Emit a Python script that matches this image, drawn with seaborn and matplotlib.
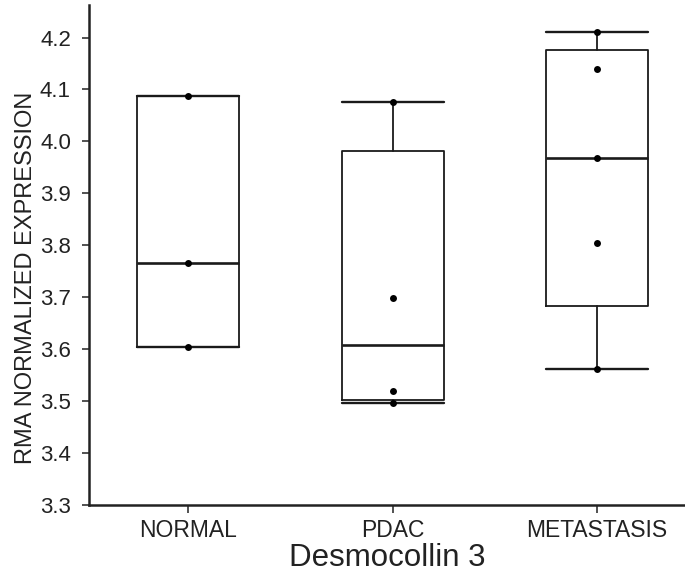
import matplotlib

matplotlib.use("Agg")
import matplotlib.pyplot as plt
import numpy as np
import pandas as pd
import seaborn as sns

groups = ["NORMAL", "PDAC", "METASTASIS"]
normal = [4.088, 3.765, 3.605]
pdac = [4.075, 3.698, 3.520, 3.497]
metastasis = [4.211, 4.140, 3.968, 3.804, 3.561]

values = [normal, pdac, metastasis]
df = pd.DataFrame({
    "group": np.repeat(groups, [len(v) for v in values]),
    "expr": np.concatenate(values),
})

sns.set_style("ticks")
plt.rcParams["font.family"] = ["Liberation Sans", "DejaVu Sans"]

fig = plt.figure(figsize=(6.85, 5.75), dpi=100)
ax = fig.add_axes([0.130, 0.1217, 0.870, 0.869])

# box stats with weibull quantiles (min/max whiskers), as in the source software
stats = []
for name, v in zip(groups, values):
    q1, med, q3 = np.percentile(v, [25, 50, 75], method="weibull")
    stats.append(dict(label=name, med=med, q1=q1, q3=q3,
                      whislo=min(v), whishi=max(v), fliers=[]))

line = dict(color="#1a1a1a", lw=1.3)
ax.bxp(stats, positions=range(len(groups)), widths=0.5, showfliers=False,
       boxprops=line, whiskerprops=line,
       capprops=dict(color="#1a1a1a", lw=1.7),
       medianprops=dict(color="#1a1a1a", lw=1.9), capwidths=0.5)

sns.stripplot(data=df, x="group", y="expr", order=groups, jitter=False,
              color="black", size=5, ax=ax, zorder=5)

yt = np.arange(3.3, 4.21, 0.1)
ax.set_xlim(-0.485, 2.43)
ax.set_ylim(3.3, 4.262)
ax.set_yticks(yt)
ax.set_yticklabels([f"{t:.1f}" for t in yt])
ax.set_xticks(range(len(groups)))
ax.set_xticklabels(groups)
ax.tick_params(axis="y", labelsize=16, length=5, width=1.2, pad=8,
               color="#333333", labelcolor="#222222")
ax.tick_params(axis="x", labelsize=16.5, length=6, width=1.2, pad=4,
               color="#333333", labelcolor="#222222")
ax.set_xlabel("Desmocollin 3", fontsize=22.5, color="#222222", labelpad=1)
ax.set_ylabel("RMA NORMALIZED EXPRESSION", fontsize=17, color="#222222")
ax.yaxis.set_label_coords(-0.088, 0.455)

for side in ["top", "right"]:
    ax.spines[side].set_visible(False)
for side in ["left", "bottom"]:
    ax.spines[side].set_linewidth(1.8)
    ax.spines[side].set_color("#222222")

plt.savefig("out.png", dpi=100)
